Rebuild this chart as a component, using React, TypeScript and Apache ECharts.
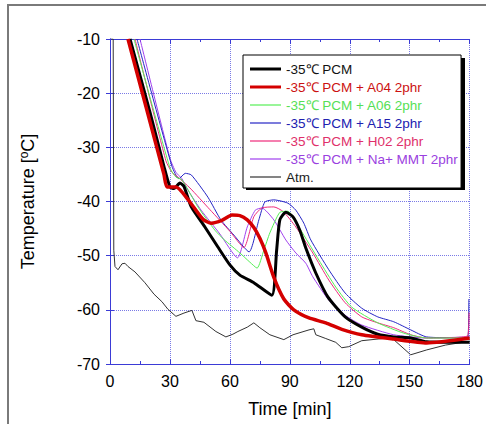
import React, { useEffect, useRef } from "react";
import * as echarts from "echarts";

const seriesNames = [
  "-35℃ PCM",
  "-35℃ PCM + A04 2phr",
  "-35℃ PCM + A06 2phr",
  "-35℃ PCM + A15 2phr",
  "-35℃ PCM + H02 2phr",
  "-35℃ PCM + Na+ MMT 2phr",
  "Atm.",
];

const xTicks = [0, 30, 60, 90, 120, 150, 180];
const yTicks = [-70, -60, -50, -40, -30, -20, -10];

const pcmT = [10, 20, 27, 30, 32, 35, 37, 40.7, 47.5, 54, 60, 65, 72, 81, 83.4, 85, 88, 91.5, 95, 98, 103, 109, 117.7, 126, 134, 142, 150.5, 158.5, 180];
const pcmV = [-10, -23.5, -33.5, -37.3, -37.6, -36.6, -37.2, -41, -44.7, -48.4, -51.7, -53.6, -55, -57.3, -49, -43.4, -42, -42.8, -45.3, -48.6, -53.2, -57.6, -61.3, -63.2, -64.5, -65, -65.2, -65.9, -66];

const a04T = [9, 27, 28.5, 33, 41, 46.6, 50.6, 56, 61, 65, 68.7, 72, 75, 78, 82, 87, 92, 99.6, 108, 116, 126, 142, 158.5, 180];
const a04V = [-10, -35, -37.3, -37.3, -40.6, -43.3, -44, -43.5, -42.5, -42.6, -43.4, -44.8, -46.8, -49.5, -54, -58, -60, -61.5, -62.4, -63.6, -64.6, -65.4, -66.1, -65.2];

const a06T = [12, 30, 33, 36, 44, 52.5, 57, 65, 70, 73.6, 77, 80, 85, 89, 95, 104.5, 113, 121, 134, 147, 158.5, 180];
const a06V = [-10, -33.8, -35.5, -36, -41, -45.3, -47, -49.5, -51.2, -52.3, -49, -45.8, -42, -41.8, -45, -50.8, -55.8, -59.5, -62.4, -64.3, -65.2, -65.2];

const a15T = [13.5, 31, 34.5, 37.7, 40.7, 49, 55.5, 62, 69.6, 74.5, 77.5, 82, 89, 93, 97, 100.5, 109.5, 117.7, 126, 134, 142, 150.5, 158.5, 179, 179.6];
const a15V = [-10, -33.5, -35.8, -34.8, -35.1, -39.2, -43.4, -46.2, -49.3, -43.4, -40.1, -39.7, -40.3, -41.6, -44, -47.1, -52.6, -56.9, -59.7, -61.3, -62.2, -63.7, -65, -65.2, -58];

const h02T = [12.5, 28, 31, 34, 40, 50, 60, 67, 72, 76, 82, 86.8, 93, 101.5, 109.5, 117.7, 126, 134, 142, 150.5, 158.5, 179, 179.7];
const h02V = [-10, -32.5, -34.6, -35.5, -37.5, -41.5, -45.5, -48.5, -42.8, -41.2, -41, -41.9, -44.7, -49.5, -54.5, -58.7, -61.3, -62.4, -63.3, -64.6, -65.2, -64.8, -60.5];

const mmtT = [15, 30, 33, 36, 39, 45.6, 55, 63.8, 68.7, 72.7, 76, 82, 88, 93, 98, 101.5, 109.5, 117.7, 126, 142, 158.5, 180];
const mmtV = [-10, -32, -34.6, -35.8, -37.9, -41.6, -46, -50.4, -44.7, -41.6, -41.2, -43.4, -47.1, -49.5, -51.4, -53.9, -58.2, -61, -62.8, -64.6, -65.2, -65];

const atmT = [0.5, 1.6, 1.9, 2.5, 4, 6, 7.5, 9, 12.5, 17.5, 22, 26, 29, 33, 37, 41, 43, 47, 53, 58, 61.5, 64, 68.7, 72, 75, 80, 87, 91.6, 99.6, 102, 103, 108, 113, 116, 119.5, 126, 139, 142, 150.5, 158.5, 168, 180];
const atmV = [-10, -10, -49, -52, -52.6, -51.5, -51.4, -52, -53, -55, -57.1, -58.5, -59.9, -61.2, -60.6, -60.1, -62, -62.3, -64, -65, -64.5, -64, -63.2, -62.4, -63.3, -64.6, -65.5, -64.6, -63.7, -63.5, -64.6, -65.3, -66, -67, -66.8, -65.7, -65.2, -65.5, -68.3, -67.4, -66.5, -65.8];

const colors = ["#000000", "#d40000", "#55ee55", "#2424c4", "#ee2a7b", "#a040ee", "#333333"];
const textColors = ["#111111", "#cc1111", "#55e055", "#2020b0", "#e0306a", "#9a40e0", "#222222"];
const widths = [3, 3.5, 1, 1, 1, 1, 1];

const zip = (t: number[], v: number[]) => t.map((x, i) => [x, v[i]]);

export default function App() {
  const ref = useRef<HTMLDivElement>(null);
  useEffect(() => {
    if (!ref.current) return;
    const chart = echarts.init(ref.current, undefined, { renderer: "svg" });
    const dataSets = [
      zip(pcmT, pcmV),
      zip(a04T, a04V),
      zip(a06T, a06V),
      zip(a15T, a15V),
      zip(h02T, h02V),
      zip(mmtT, mmtV),
      zip(atmT, atmV),
    ];
    const zOrder = [8, 9, 7, 5, 6, 4, 3];
    const axisBlue = "#3b3bd6";
    const gridBlue = "#7a7ae6";
    const font = "'Liberation Sans', Arial, sans-serif";
    const thickIcon = "path://M0,0L31,0L31,3L0,3Z";
    const thinIcon = "path://M0,0L31,0L31,1.2L0,1.2Z";
    const xBase = {
      type: "value" as const,
      min: 0,
      max: 180,
      interval: 30,
      axisLine: { show: true, lineStyle: { color: axisBlue, width: 1 } },
      axisTick: { show: true, inside: true, length: 5, lineStyle: { color: axisBlue } },
      minorTick: { show: true, splitNumber: 2, length: 3, lineStyle: { color: axisBlue } },
    };
    const yBase = {
      type: "value" as const,
      min: -70,
      max: -10,
      interval: 10,
      axisLine: { show: true, lineStyle: { color: axisBlue, width: 1 } },
      axisTick: { show: true, inside: true, length: 4, lineStyle: { color: axisBlue } },
    };
    chart.setOption({
      animation: false,
      backgroundColor: "#ffffff",
      textStyle: { fontFamily: font },
      grid: { left: 110, right: 9, top: 39, bottom: 60, containLabel: false },
      graphic: [
        {
          type: "rect",
          z: 0,
          shape: { x: 8, y: 5, width: 700, height: 700 },
          style: { fill: "none", stroke: "#7a7a7a", lineWidth: 2 },
        },
        {
          type: "rect",
          z: 30,
          shape: { x: 246, y: 58, width: 219, height: 132 },
          style: { fill: "#000000" },
        },
      ],
      legend: {
        show: true,
        orient: "vertical",
        left: 243,
        top: 55,
        width: 220,
        padding: [7, 3, 4, 7],
        itemGap: 4,
        itemWidth: 31,
        itemHeight: 14,
        symbolKeepAspect: true,
        backgroundColor: "#ffffff",
        borderColor: "#000000",
        borderWidth: 1,
        z: 40,
        textStyle: { fontSize: 13.5, fontFamily: font },
        data: seriesNames.map((n, i) => ({
          name: n,
          icon: widths[i] > 2 ? thickIcon : thinIcon,
          itemStyle: { color: colors[i], borderWidth: 0 },
          textStyle: { color: textColors[i] },
        })),
      },
      xAxis: [
        {
          ...xBase,
          position: "bottom",
          axisLabel: { show: true, fontSize: 16, color: "#000", margin: 9, fontFamily: font },
          splitLine: { show: true, lineStyle: { color: gridBlue, type: "dotted", width: 1 } },
          name: "Time [min]",
          nameLocation: "middle",
          nameGap: 36,
          nameTextStyle: { fontSize: 18, color: "#000", fontFamily: font },
        },
        {
          ...xBase,
          position: "top",
          axisLabel: { show: false },
          splitLine: { show: false },
        },
      ],
      yAxis: [
        {
          ...yBase,
          position: "left",
          axisLabel: { show: true, fontSize: 16, color: "#000", margin: 10, fontFamily: font },
          splitLine: { show: true, lineStyle: { color: gridBlue, type: "dotted", width: 1 } },
          name: "Temperature [{sup|o}C]",
          nameLocation: "middle",
          nameGap: 72,
          nameRotate: 90,
          nameTextStyle: {
            fontSize: 18,
            color: "#000",
            fontFamily: font,
            rich: { sup: { fontSize: 12, color: "#000", fontFamily: font, padding: [0, 0, 8, 0] } },
          },
        },
        {
          ...yBase,
          position: "right",
          axisLabel: { show: false },
          splitLine: { show: false },
        },
      ],
      series: seriesNames.map((n, i) => ({
        name: n,
        type: "line",
        xAxisIndex: 0,
        yAxisIndex: 0,
        data: dataSets[i],
        symbol: "none",
        showSymbol: false,
        smooth: i === 6 ? false : 0.2,
        z: zOrder[i],
        clip: true,
        lineStyle: { color: colors[i], width: widths[i], join: "round" },
        itemStyle: { color: colors[i] },
      })),
    });
    return () => chart.dispose();
  }, []);
  return (
    <div
      ref={ref}
      style={{ position: "fixed", left: 0, top: 0, width: 486, height: 424, background: "#fff" }}
    />
  );
}
